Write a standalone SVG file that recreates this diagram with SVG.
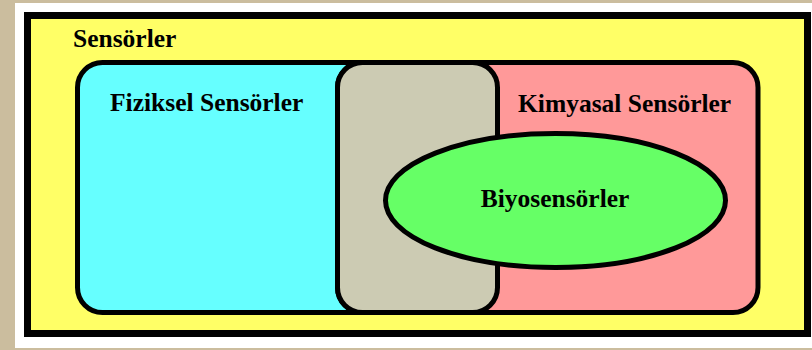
<svg xmlns="http://www.w3.org/2000/svg" width="812" height="350" viewBox="0 0 812 350">
<style>
.lbl{font-family:"Liberation Serif","Times New Roman",serif;font-weight:bold;font-size:25.5px;fill:#000}
.sh{stroke:#000;stroke-width:5}
</style>
<rect x="0" y="0" width="812" height="350" fill="#cbbd9e"/>
<rect x="15" y="3" width="797" height="345" fill="#ffffff"/>
<g id="sensorler">
<rect x="27.5" y="15.5" width="780" height="318" fill="#ffff66" stroke="#000" stroke-width="7"/>
<text class="lbl" x="73" y="47">Sensörler</text>
</g>
<g id="fiziksel">
<rect class="sh" x="77.5" y="62.5" width="420" height="250" rx="25" fill="#66ffff"/>
<text class="lbl" x="110" y="111">Fiziksel Sensörler</text>
</g>
<g id="kimyasal">
<rect class="sh" x="337.5" y="62.5" width="420.5" height="250" rx="25" fill="#ff9999"/>
<text class="lbl" x="518" y="112">Kimyasal Sensörler</text>
</g>
<g id="kesisim">
<rect class="sh" x="337.5" y="62.5" width="160" height="250" rx="25" fill="#cccbb3"/>
</g>
<g id="biyosensorler">
<ellipse class="sh" cx="555.5" cy="200.5" rx="170" ry="67" fill="#66ff66"/>
<text class="lbl" x="555" y="207" text-anchor="middle">Biyosensörler</text>
</g>
<g id="connectors"/>
</svg>
